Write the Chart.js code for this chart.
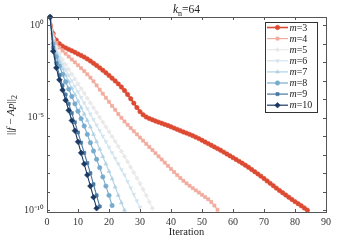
<!DOCTYPE html>
<html>
<head>
<meta charset="utf-8">
<script src="https://cdn.jsdelivr.net/npm/chart.js@4/dist/chart.umd.min.js"></script>
<style>
html, body { margin: 0; padding: 0; background: #fff; }
</style>
</head>
<body>
<canvas id="c" width="360" height="240"></canvas>
<script>
// log10 of ||f - Ap||_2, one value per iteration (starting at iteration 1)
const m3Log = [0.45, -0.45, -0.8, -1.0, -1.13, -1.22, -1.3, -1.38, -1.46, -1.55,
  -1.63, -1.72, -1.82, -1.93, -2.05, -2.17, -2.3, -2.43, -2.57, -2.71,
  -2.86, -3.01, -3.17, -3.34, -3.53, -3.74, -3.97, -4.21, -4.45, -4.67,
  -4.84, -4.96, -5.04, -5.11, -5.18, -5.24, -5.3, -5.36, -5.42, -5.49,
  -5.56, -5.63, -5.7, -5.77, -5.83, -5.9, -5.97, -6.05, -6.13, -6.22,
  -6.31, -6.4, -6.49, -6.58, -6.67, -6.76, -6.86, -6.96, -7.06, -7.16,
  -7.26, -7.36, -7.46, -7.57, -7.68, -7.8, -7.92, -8.04, -8.16, -8.29,
  -8.42, -8.55, -8.68, -8.81, -8.94, -9.06, -9.18, -9.3, -9.42, -9.54,
  -9.65, -9.76, -9.88, -10.0];
const m4Log = [0.45, -0.5, -0.95, -1.2, -1.37, -1.53, -1.69, -1.85, -2.0, -2.16,
  -2.32, -2.48, -2.65, -2.83, -3.03, -3.25, -3.48, -3.7, -3.92, -4.14,
  -4.36, -4.57, -4.8, -5.0, -5.2, -5.38, -5.56, -5.73, -5.9, -6.07,
  -6.24, -6.41, -6.58, -6.75, -6.92, -7.09, -7.26, -7.43, -7.6, -7.77,
  -7.94, -8.1, -8.26, -8.41, -8.55, -8.68, -8.81, -8.93, -9.05, -9.17,
  -9.29, -9.41, -9.56, -9.75, -9.98];
const m5Log = [0.45, -0.7, -1.2, -1.55, -1.85, -2.12, -2.38, -2.64, -2.9, -3.16,
  -3.42, -3.68, -3.94, -4.2, -4.46, -4.72, -4.98, -5.24, -5.5, -5.76,
  -6.02, -6.28, -6.55, -6.82, -7.1, -7.38, -7.67, -7.96, -8.26, -8.56,
  -8.88, -9.2, -9.55, -9.9];
const m6Log = [0.45, -0.8, -1.35, -1.75, -2.1, -2.4, -2.7, -3.0, -3.3, -3.6,
  -3.9, -4.2, -4.5, -4.8, -5.1, -5.4, -5.7, -6.0, -6.3, -6.6,
  -6.9, -7.2, -7.5, -7.8, -8.1, -8.45, -8.8, -9.15, -9.5, -9.85];
const m7Log = [0.45, -0.9, -1.5, -1.95, -2.35, -2.7, -3.05, -3.4, -3.75, -4.1,
  -4.45, -4.8, -5.15, -5.5, -5.9, -6.3, -6.7, -7.1, -7.5, -7.9,
  -8.3, -8.75, -9.2, -9.6, -10.0];
const m8Log = [0.45, -1.0, -1.7, -2.2, -2.65, -3.05, -3.45, -3.85, -4.25, -4.65,
  -5.05, -5.45, -5.9, -6.35, -6.8, -7.25, -7.7, -8.2, -8.7, -9.2, -9.75];
const m9Log = [0.45, -1.2, -2.05, -2.7, -3.25, -3.75, -4.25, -4.75, -5.25, -5.8,
  -6.35, -6.9, -7.45, -8.0, -8.6, -9.2, -9.8];
const m10Log = [0.45, -1.4, -2.3, -2.95, -3.5, -4.05, -4.6, -5.15, -5.7, -6.3,
  -6.9, -7.5, -8.1, -8.7, -9.3, -9.9];

const mValues = [3, 4, 5, 6, 7, 8, 9, 10];
const seriesLog = [m3Log, m4Log, m5Log, m6Log, m7Log, m8Log, m9Log, m10Log];
const xTicks = [0, 10, 20, 30, 40, 50, 60, 70, 80, 90];
const yDecades = [-10, -9, -8, -7, -6, -5, -4, -3, -2, -1, 0];
const yLabelled = [-10, -5, 0];

const colors = ['#dd4a32', '#f2ab9d', '#e9e9e9', '#d3e4ee', '#b1d2e5', '#77abcd', '#48779f', '#1b3963'];
const markers = ['circle', 'rect', 'rectRot', 'triangle', 'triangle', 'circle', 'rect', 'rectRot'];
const rotations = [0, 0, 0, 180, 0, 0, 0, 0];
const serif = '"Liberation Serif", "Times New Roman", serif';
const sup = { '0': '\u2070', '1': '\u00b9', '5': '\u2075', '-': '\u207b' };

const datasets = seriesLog.map((arr, i) => ({
  label: 'm=' + mValues[i],
  data: arr.map((v, k) => ({ x: k + 1, y: Math.pow(10, v) })),
  borderColor: colors[i],
  backgroundColor: colors[i],
  borderWidth: i === 0 ? 1.8 : 1.1,
  pointStyle: markers[i],
  rotation: rotations[i],
  pointRadius: i === 7 ? 2.8 : 2.2,
  pointBorderWidth: 0.6,
  order: 10 - i,
  clip: 6
}));

// frame with inward ticks, like the original figure
const framePlugin = {
  id: 'frame',
  afterDraw(chart) {
    const { ctx, chartArea: a, scales: { x, y } } = chart;
    ctx.save();
    ctx.strokeStyle = '#555';
    ctx.lineWidth = 1;
    ctx.strokeRect(a.left + 0.5, a.top + 0.5, a.right - a.left, a.bottom - a.top);
    ctx.beginPath();
    xTicks.forEach(t => {
      const px = Math.round(x.getPixelForValue(t)) + 0.5;
      ctx.moveTo(px, a.bottom); ctx.lineTo(px, a.bottom - 3);
      ctx.moveTo(px, a.top); ctx.lineTo(px, a.top + 3);
    });
    yDecades.forEach(e => {
      const py = Math.round(y.getPixelForValue(Math.pow(10, e))) + 0.5;
      ctx.moveTo(a.left, py); ctx.lineTo(a.left + 3, py);
      ctx.moveTo(a.right, py); ctx.lineTo(a.right - 3, py);
    });
    ctx.stroke();
    ctx.restore();
  }
};

function drawRuns(ctx, runs, x, y) {
  // runs: [text, style, size, dy]
  runs.forEach(r => {
    ctx.font = r[1] + ' ' + r[2] + 'px ' + serif;
    ctx.fillText(r[0], x, y + r[3]);
    x += ctx.measureText(r[0]).width;
  });
  return x;
}
function runsWidth(ctx, runs) {
  let w = 0;
  runs.forEach(r => { ctx.font = r[1] + ' ' + r[2] + 'px ' + serif; w += ctx.measureText(r[0]).width; });
  return w;
}

const textPlugin = {
  id: 'texts',
  afterDraw(chart) {
    const { ctx, chartArea: a } = chart;
    ctx.save();
    ctx.fillStyle = '#222';
    ctx.textBaseline = 'alphabetic';
    // title k_n=64
    const title = [['k', 'italic', 11.5, 0], ['n', 'normal', 8, 2.5], ['=64', 'normal', 11.5, 0]];
    const cx = (a.left + a.right) / 2;
    drawRuns(ctx, title, cx - runsWidth(ctx, title) / 2, 13);
    // y axis label
    const ylab = [['||', 'normal', 11, 0], ['f', 'italic', 11, 0], [' \u2212 ', 'normal', 11, 0],
      ['Ap', 'italic', 11, 0], ['||', 'normal', 11, 0], ['2', 'normal', 8, 2.5]];
    ctx.translate(14, 115);
    ctx.rotate(-Math.PI / 2);
    drawRuns(ctx, ylab, -runsWidth(ctx, ylab) / 2, 0);
    ctx.restore();

    // legend
    ctx.save();
    const lx = 265, ly = 22, lw = 52, lh = 90;
    ctx.fillStyle = '#fff';
    ctx.fillRect(lx, ly, lw, lh);
    ctx.strokeStyle = '#333';
    ctx.lineWidth = 1;
    ctx.strokeRect(lx + 0.5, ly + 0.5, lw, lh);
    chart.data.datasets.forEach((ds, i) => {
      const yy = 27.5 + i * 11.1;
      ctx.strokeStyle = ds.borderColor;
      ctx.fillStyle = ds.backgroundColor;
      ctx.lineWidth = i === 0 ? 1.6 : 1.2;
      ctx.beginPath();
      ctx.moveTo(267, yy); ctx.lineTo(288, yy);
      ctx.stroke();
      ctx.lineWidth = 0.6;
      Chart.helpers.drawPoint(ctx, { pointStyle: ds.pointStyle, rotation: ds.rotation, radius: ds.pointRadius, borderWidth: 0.6 }, 277.5, yy);
      ctx.fillStyle = '#222';
      ctx.textBaseline = 'middle';
      drawRuns(ctx, [['m', 'italic', 10, 0], ['=' + mValues[i], 'normal', 10, 0]], 289.5, yy + 0.5);
    });
    ctx.restore();
  }
};

new Chart(document.getElementById('c'), {
  type: 'line',
  data: { datasets: datasets },
  options: {
    responsive: false,
    animation: false,
    devicePixelRatio: 1,
    layout: { padding: { top: 17, right: 34, left: 0, bottom: 0 } },
    plugins: { legend: { display: false }, tooltip: { enabled: false } },
    scales: {
      x: {
        type: 'linear',
        min: 0, max: 90,
        grid: { display: false, drawTicks: false },
        border: { display: false },
        ticks: { stepSize: 10, padding: 4, color: '#333', font: { family: serif, size: 10 } },
        title: { display: true, text: 'Iteration', color: '#222', font: { family: serif, size: 10.5 }, padding: { top: 0, bottom: 1 } },
        afterFit(s) { s.height = 28; }
      },
      y: {
        type: 'logarithmic',
        min: Math.pow(10, -10.1), max: Math.pow(10, 0.45),
        grid: { display: false, drawTicks: false },
        border: { display: false },
        afterBuildTicks(s) { s.ticks = yDecades.map(e => ({ value: Math.pow(10, e) })); },
        ticks: {
          padding: 3, color: '#333', font: { family: serif, size: 10 }, autoSkip: false,
          callback(v) {
            const e = Math.round(Math.log10(v));
            if (!yLabelled.includes(e)) return '';
            return '10' + String(e).split('').map(c => sup[c]).join('');
          }
        },
        afterFit(s) { s.width = 47; }
      }
    }
  },
  plugins: [framePlugin, textPlugin]
});
</script>
</body>
</html>
